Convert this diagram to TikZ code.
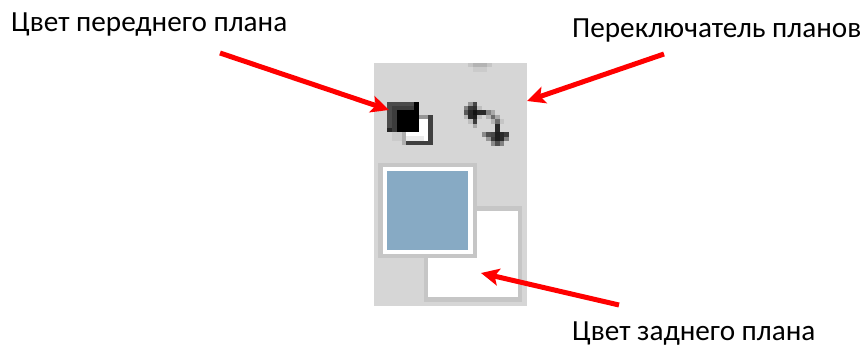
\documentclass[tikz,border=0pt]{standalone}
\usepackage{fontspec}
\setmainfont{Carlito}
\usetikzlibrary{arrows.meta}
\definecolor{panelgrey}{RGB}{214,214,214}
\definecolor{frameline}{RGB}{198,198,198}
\definecolor{swatchblue}{RGB}{135,170,196}
\tikzset{x=1pt,y=-1pt,
  lbl/.style={inner sep=0pt,anchor=base west,font=\fontsize{29.2}{32}\selectfont,text=black},
  callout/.style={draw=red,line width=5pt,-{Stealth[length=18pt,width=17pt,inset=4pt]}}}
\begin{document}
\begin{tikzpicture}
\useasboundingbox (0,0) rectangle (864,347);
% panel
\fill[panelgrey] (374,63) rectangle (527,306);
\fill[black!8!panelgrey] (468,63) rectangle (492,67);
\fill[black!16!panelgrey] (473,63) rectangle (487,67);
\fill[black!5!panelgrey] (473,67) rectangle (487,72);
\fill[frameline] (424,206) rectangle (522,302);
\fill[white] (428,211) rectangle (518,297);
\fill[frameline] (378,163) rectangle (477,258);
\fill[white] (383,167) rectangle (473,254);
\fill[swatchblue] (387,171) rectangle (468,250);
% small foreground/background icon
\fill[black!5!panelgrey] (392,132) rectangle (406,141);
\fill[black!18!panelgrey] (402,132) rectangle (406,145);
\fill[black!30!panelgrey] (419,115) rectangle (433,119);
\fill[black!70!panelgrey] (428,115) rectangle (433,145);
\fill[black!70!panelgrey] (406,141) rectangle (433,145);
\fill[white] (406,132) rectangle (428,141);
\fill[white] (419,119) rectangle (428,141);
\fill[black!8!white] (406,136) rectangle (424,141);
\fill[black!65!panelgrey] (387,102) rectangle (419,132);
\fill[black!72!panelgrey] (392,106) rectangle (419,132);
\fill[black] (397,110) rectangle (419,132);
\fill[black!85] (387,128) rectangle (392,132);
\fill[black] (414,102) rectangle (419,110);
% swap icon, as coarse pixels
\foreach \c/\r/\g in {1/0/30,2/0/67,
  0/1/40,1/1/72,2/1/77,3/1/11,
  0/2/58,1/2/81,2/2/91,3/2/81,4/2/81,5/2/40,6/2/21,
  0/3/16,1/3/81,2/3/86,3/3/11,5/3/16,6/3/49,7/3/21,
  1/4/11,2/4/72,6/4/16,7/4/49,8/4/8,
  2/5/21,7/5/81,
  7/6/81,
  4/7/35,5/7/63,6/7/67,7/7/86,8/7/81,9/7/72,
  5/8/30,6/8/72,7/8/86,8/8/81,9/8/40,
  6/9/35,7/9/63,8/9/40}
  \fill[black!\g!panelgrey] ({464+4.45*\c},{101.7+4.4*\r}) rectangle ({464+4.45*(\c+1)},{101.7+4.4*(\r+1)});
% labels
\node[lbl] (fg) at (11,32) {Цвет переднего плана};
\node[lbl] (sw) at (572,38) {Переключатель планов};
\node[lbl] (bg) at (572,340.5) {Цвет заднего плана};
% arrow ends
\coordinate (fgtail) at (220,53);
\coordinate (fgtip) at (389,110);
\coordinate (swtail) at (664,54);
\coordinate (swtip) at (527,101);
\coordinate (bgtail) at (619,305);
\coordinate (bgtip) at (481,273);
\draw[callout] (fgtail) -- (fgtip);
\draw[callout] (swtail) -- (swtip);
\draw[callout] (bgtail) -- (bgtip);
\end{tikzpicture}
\end{document}
